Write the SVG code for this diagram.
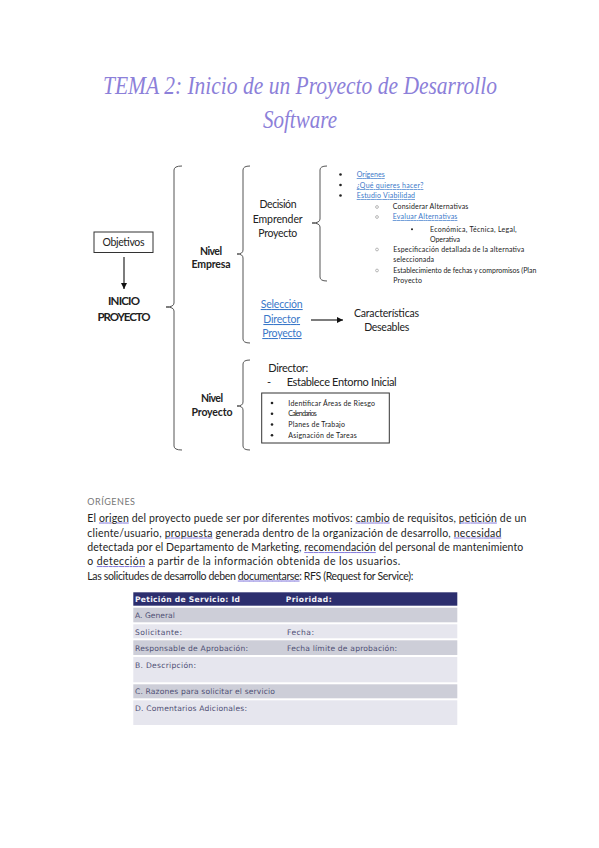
<svg xmlns="http://www.w3.org/2000/svg" width="599" height="848" viewBox="0 0 599 848">
<defs>
<style>
.t{font-family:Lato,"Liberation Sans",sans-serif;fill:#222}
.c{text-anchor:middle}
.b{font-weight:bold}
.d{font-size:10.5px}
.s{font-size:7px}
.lk{fill:#3a78c9;text-decoration:underline}
.br{fill:none;stroke:#555;stroke-width:1}
.ln{stroke:#111;stroke-width:1.1;fill:none}
.para{font-family:Lato,"Liberation Sans",sans-serif;font-size:10.5px;fill:#1e1e1e}
.ul{fill:#8a80de;text-decoration:underline;text-decoration-color:#8a80de}
.ulw{fill:#1e1e1e}
.tb{font-family:"DejaVu Sans","Liberation Sans",sans-serif;font-size:7.6px;fill:#4e4e74}
.th{font-family:"DejaVu Sans","Liberation Sans",sans-serif;font-size:7.6px;fill:#f2f2f8;font-weight:bold}
.dot{fill:#222}
.od{fill:none;stroke:#999;stroke-width:0.7}
</style>
<marker id="ah" markerUnits="userSpaceOnUse" markerWidth="7" markerHeight="7" refX="6" refY="3" orient="auto">
<path d="M0,0 L6,3 L0,6 Z" fill="#111"/>
</marker>
</defs>
<rect width="599" height="848" fill="#ffffff"/>

<g id="title">
<text x="103" y="94" font-family="'Liberation Serif',serif" font-style="italic" font-size="25" fill="#8c80d9" textLength="394" lengthAdjust="spacingAndGlyphs">TEMA 2: Inicio de un Proyecto de Desarrollo</text>
<text x="263" y="128" font-family="'Liberation Serif',serif" font-style="italic" font-size="25" fill="#8c80d9" textLength="74" lengthAdjust="spacingAndGlyphs">Software</text>
</g>

<g id="connectors">
<path class="br" d="M182,166 Q174,166 174,170 V303 Q174,307 166,307 Q174,307 174,311 V446 Q174,450 182,450"/>
<path class="br" d="M250,166 Q243,166 243,170 V250 Q243,254 237,254 Q243,254 243,258 V339 Q243,343 250,343"/>
<path class="br" d="M250,360 Q243,360 243,364 V402 Q243,406 237,406 Q243,406 243,410 V446 Q243,450 250,450"/>
<path class="br" d="M327,166 Q320,166 320,170 V219 Q320,223 312,223 Q320,223 320,227 V277 Q320,281 327,281"/>
<line class="ln" x1="124" y1="257" x2="124" y2="289" marker-end="url(#ah)"/>
<line class="ln" x1="311" y1="320" x2="343" y2="320" marker-end="url(#ah)"/>
</g>

<g id="objetivos">
<rect x="94" y="232" width="59" height="20.5" fill="#fff" stroke="#333" stroke-width="1"/>
<text class="t c d" x="123.5" y="246" textLength="42" lengthAdjust="spacing">Objetivos</text>
</g>

<g id="inicio">
<text class="t c b" font-size="11.5" x="124" y="305" textLength="32">INICIO</text>
<text class="t c b" font-size="11.5" x="124" y="321" textLength="53">PROYECTO</text>
</g>

<g id="nivel-empresa">
<text class="t c b d" x="211" y="254.5" textLength="22">Nivel</text>
<text class="t c b d" x="211" y="268" textLength="39">Empresa</text>
</g>

<g id="nivel-proyecto">
<text class="t c b d" x="212" y="402" textLength="22">Nivel</text>
<text class="t c b d" x="212" y="416" textLength="41">Proyecto</text>
</g>

<g id="decision">
<text class="t c d" x="278" y="208" textLength="37">Decisión</text>
<text class="t c d" x="277.7" y="222.5" textLength="50">Emprender</text>
<text class="t c d" x="277.8" y="237" textLength="39">Proyecto</text>
</g>

<g id="seleccion">
<text class="t c d lk" x="281.7" y="308" textLength="42">Selección</text>
<text class="t c d lk" x="281.7" y="323" textLength="36.7">Director</text>
<text class="t c d lk" x="282" y="337" textLength="39.4">Proyecto</text>
</g>

<g id="caracteristicas">
<text class="t c d" x="386.5" y="317" textLength="65">Características</text>
<text class="t c d" x="386.7" y="330.5" textLength="45">Deseables</text>
</g>

<g id="estudio">
<circle class="dot" cx="340.5" cy="174.5" r="1.3"/>
<circle class="dot" cx="340.5" cy="185" r="1.3"/>
<circle class="dot" cx="340.5" cy="195.5" r="1.3"/>
<text class="t s lk" x="356.7" y="177.3" textLength="28">Orígenes</text>
<text class="t s lk" x="356.7" y="188" textLength="66.7">¿Qué quieres hacer?</text>
<text class="t s lk" x="356.7" y="198.3" textLength="58.3">Estudio Viabilidad</text>
<circle class="od" cx="377" cy="207" r="1.4"/>
<circle class="od" cx="377" cy="217" r="1.4"/>
<circle class="od" cx="377" cy="249.5" r="1.4"/>
<circle class="od" cx="377" cy="270.5" r="1.4"/>
<text class="t s" x="392.7" y="209.3" textLength="75.7">Considerar Alternativas</text>
<text class="t s lk" x="392.7" y="219.3" textLength="64.7">Evaluar Alternativas</text>
<circle class="dot" cx="412" cy="229.3" r="1"/>
<text class="t s" x="430" y="231.7" textLength="86.7">Económica, Técnica, Legal,</text>
<text class="t s" x="430" y="241.5" textLength="30">Operativa</text>
<text class="t s" x="393.3" y="251.7" textLength="131">Especificación detallada de la alternativa</text>
<text class="t s" x="393.3" y="261.7" textLength="40.7">seleccionada</text>
<text class="t s" x="393.3" y="272.7" textLength="143">Establecimiento de fechas y compromisos (Plan</text>
<text class="t s" x="393.3" y="282.7" textLength="28.7">Proyecto</text>
</g>

<g id="director">
<text class="t" font-size="11" x="268.3" y="372" textLength="40">Director:</text>
<text class="t" font-size="11" x="267" y="386">-</text>
<text class="t" font-size="11" x="286.7" y="386" textLength="110">Establece Entorno Inicial</text>
</g>

<g id="tareas">
<rect x="261.7" y="393" width="127.6" height="50" fill="#fff" stroke="#333" stroke-width="1"/>
<circle class="dot" cx="272" cy="403" r="1.3"/>
<circle class="dot" cx="272" cy="413.7" r="1.3"/>
<circle class="dot" cx="272" cy="424.5" r="1.3"/>
<circle class="dot" cx="272" cy="435.3" r="1.3"/>
<text class="t s" x="288.3" y="405.5" textLength="86.7">Identificar Áreas de Riesgo</text>
<text class="t s" x="288.3" y="416.3" textLength="28.4">Calendarios</text>
<text class="t s" x="288.3" y="427" textLength="56.7">Planes de Trabajo</text>
<text class="t s" x="288.3" y="437.8" textLength="68.4">Asignación de Tareas</text>
</g>

<g id="origenes-text">
<text x="87.3" y="505" font-family="Lato,'Liberation Sans',sans-serif" font-size="9" fill="#777" textLength="47.7" lengthAdjust="spacing">ORÍGENES</text>
<text class="para" x="87.3" y="521.5" textLength="439">El <tspan class="ul"><tspan class="ulw">origen</tspan></tspan> del proyecto puede ser por diferentes motivos: <tspan class="ul"><tspan class="ulw">cambio</tspan></tspan> de requisitos, <tspan class="ul"><tspan class="ulw">petición</tspan></tspan> de un</text>
<text class="para" x="87.3" y="536.5" textLength="414">cliente/usuario, <tspan class="ul"><tspan class="ulw">propuesta</tspan></tspan> generada dentro de la organización de desarrollo, <tspan class="ul"><tspan class="ulw">necesidad</tspan></tspan></text>
<text class="para" x="87.3" y="551" textLength="436">detectada por el Departamento de Marketing, <tspan class="ul"><tspan class="ulw">recomendación</tspan></tspan> del personal de mantenimiento</text>
<text class="para" x="87.3" y="565" textLength="313">o <tspan class="ul"><tspan class="ulw">detección</tspan></tspan> a partir de la información obtenida de los usuarios.</text>
<text class="para" x="87.3" y="579.5" textLength="326">Las solicitudes de desarrollo deben <tspan class="ul"><tspan class="ulw">documentarse</tspan></tspan>: RFS (Request for Service):</text>
</g>

<g id="rfs-table">
<rect x="133.3" y="592.3" width="324" height="13.4" fill="#2c2e6e"/>
<rect x="133.3" y="607.7" width="324" height="14.6" fill="#cdced8"/>
<rect x="133.3" y="624.3" width="324" height="14" fill="#e6e6ee"/>
<rect x="133.3" y="640.3" width="324" height="14.7" fill="#cdced8"/>
<rect x="133.3" y="657" width="324" height="25.3" fill="#e6e6ee"/>
<rect x="133.3" y="684.3" width="324" height="14" fill="#cdced8"/>
<rect x="133.3" y="700.3" width="324" height="24.7" fill="#e6e6ee"/>
<text class="th" x="135" y="602.3" textLength="105">Petición de Servicio: Id</text>
<text class="th" x="285.7" y="602.3" textLength="46">Prioridad:</text>
<text class="tb" x="135" y="618" fill="#55559a">A.   General</text>
<text class="tb" x="135" y="634.5" textLength="47">Solicitante:</text>
<text class="tb" x="287" y="634.5" textLength="27">Fecha:</text>
<text class="tb" x="135" y="650.5" textLength="113">Responsable de Aprobación:</text>
<text class="tb" x="287" y="650.5" textLength="110">Fecha límite de aprobación:</text>
<text class="tb" x="135" y="667.5" textLength="61">B. Descripción:</text>
<text class="tb" x="135" y="694.3" textLength="140">C. Razones para solicitar el servicio</text>
<text class="tb" x="135" y="711" textLength="112">D. Comentarios Adicionales:</text>
</g>
</svg>
